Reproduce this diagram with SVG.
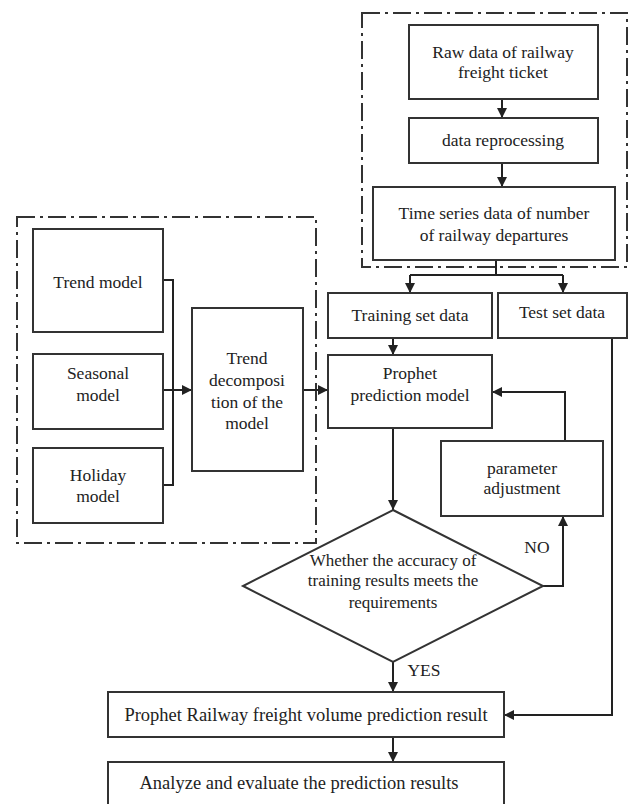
<svg xmlns="http://www.w3.org/2000/svg" width="632" height="804" viewBox="0 0 632 804">
<defs>
<marker id="ah" viewBox="0 0 10 10" refX="10" refY="5" markerWidth="10" markerHeight="10" markerUnits="userSpaceOnUse" orient="auto">
<path d="M0,0 L10,5 L0,10 z" fill="#222"/>
</marker>
<style>
.box{fill:#fff;stroke:#333;stroke-width:2}
.grp{fill:none;stroke:#333;stroke-width:2;stroke-dasharray:18,5,3,5}
.ln{fill:none;stroke:#222;stroke-width:2}
.arr{fill:none;stroke:#222;stroke-width:2;marker-end:url(#ah)}
text{font-family:"Liberation Serif","Times New Roman",serif;font-size:17.5px;fill:#222;text-anchor:middle}
.dt{font-size:17px}
.big{font-size:18.5px}
</style>
</defs>
<rect width="632" height="804" fill="#fff"/>
<rect class="grp" x="362" y="13" width="265" height="254"/>
<rect class="grp" x="17" y="217" width="299" height="326"/>
<g id="connectors">
<path class="arr" d="M502,99 V118"/>
<path class="arr" d="M502,163 V187"/>
<path class="ln" d="M496,260 V275 M410,275 H563"/>
<path class="arr" d="M410,275 V293"/>
<path class="arr" d="M563,275 V293"/>
<path class="arr" d="M393,338 V355"/>
<path class="ln" d="M163,280 H173 V485 H163"/>
<path class="arr" d="M163,390 H192"/>
<path class="arr" d="M303,390 H328"/>
<path class="arr" d="M565,441 V392 H492"/>
<path class="arr" d="M393,428 V510"/>
<path class="arr" d="M543,586 H563 V516"/>
<path class="arr" d="M393,662 V692"/>
<path class="arr" d="M612,338 V715 H504"/>
<path class="arr" d="M393,737 V762"/>
</g>
<g id="raw"><rect class="box" x="409" y="25" width="189" height="74"/><text x="503" y="58">Raw data of railway</text><text x="503" y="78">freight ticket</text></g>
<g id="reproc"><rect class="box" x="409" y="118" width="189" height="45"/><text x="503" y="146">data reprocessing</text></g>
<g id="timeseries"><rect class="box" x="373" y="187" width="242" height="73"/><text x="494" y="219">Time series data of number</text><text x="494" y="241">of railway departures</text></g>
<g id="training"><rect class="box" x="328" y="293" width="164" height="45"/><text x="410" y="321">Training  set data</text></g>
<g id="test"><rect class="box" x="498" y="293" width="129" height="45"/><text x="562" y="318">Test set data</text></g>
<g id="trend"><rect class="box" x="33" y="229" width="130" height="103"/><text x="98" y="288">Trend model</text></g>
<g id="seasonal"><rect class="box" x="33" y="354" width="130" height="75"/><text x="98" y="379">Seasonal</text><text x="98" y="401">model</text></g>
<g id="holiday"><rect class="box" x="33" y="448" width="130" height="75"/><text x="98" y="481">Holiday</text><text x="98" y="502">model</text></g>
<g id="decomp"><rect class="box" x="192" y="308" width="111" height="163"/><text x="247" y="364">Trend</text><text x="247" y="386">decomposi</text><text x="247" y="408">tion of the</text><text x="247" y="429">model</text></g>
<g id="prophet"><rect class="box" x="328" y="355" width="164" height="73"/><text x="410" y="379">Prophet</text><text x="410" y="401">prediction  model</text></g>
<g id="param"><rect class="box" x="441" y="441" width="162" height="75"/><text x="522" y="474">parameter</text><text x="522" y="494">adjustment</text></g>
<g id="decision"><path class="box" d="M393,510 L543,586 L393,662 L243,586 Z"/><text class="dt" x="393" y="566">Whether the accuracy of</text><text class="dt" x="393" y="586">training results meets the</text><text class="dt" x="393" y="608">requirements</text></g>
<text x="537" y="553">NO</text>
<text x="424" y="676">YES</text>
<g id="result"><rect class="box" x="108" y="692" width="396" height="45"/><text class="big" x="306" y="721">Prophet Railway freight volume prediction result</text></g>
<g id="analyze"><rect class="box" x="108" y="762" width="396" height="50"/><text class="big" x="299" y="789">Analyze and evaluate the prediction results</text></g>
</svg>
